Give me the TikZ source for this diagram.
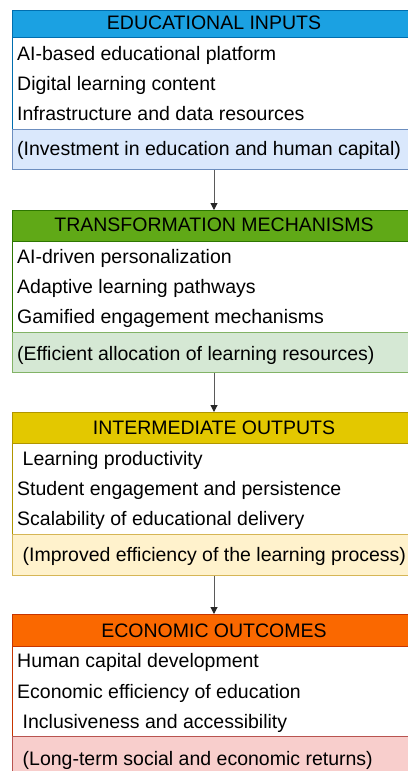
\documentclass[tikz,border=0pt]{standalone}
\usepackage{fontspec}
\setmainfont{Liberation Sans}
\usetikzlibrary{arrows.meta}

\definecolor{blueHead}{HTML}{1BA1E2}\definecolor{blueLine}{HTML}{006EAF}
\definecolor{blueFoot}{HTML}{DAE8FC}\definecolor{blueFootLine}{HTML}{6C8EBF}
\definecolor{greenHead}{HTML}{60A917}\definecolor{greenLine}{HTML}{2D7600}
\definecolor{greenFoot}{HTML}{D5E8D4}\definecolor{greenFootLine}{HTML}{82B366}
\definecolor{yellowHead}{HTML}{E3C800}\definecolor{yellowLine}{HTML}{B09500}
\definecolor{yellowFoot}{HTML}{FFF2CC}\definecolor{yellowFootLine}{HTML}{D6B656}
\definecolor{orangeHead}{HTML}{FA6800}\definecolor{orangeLine}{HTML}{C73500}
\definecolor{redFoot}{HTML}{F8CECC}\definecolor{redFootLine}{HTML}{B85450}
\definecolor{arrowGray}{HTML}{5A5A5A}

\tikzset{
  x=1pt, y=-1pt,
  panel/.style={rectangle, anchor=north west, inner sep=0pt, minimum width=405pt, line width=0.9pt},
  headtext/.style={anchor=base, inner sep=0pt, font=\fontsize{19.5}{22}\selectfont},
  itemtext/.style={anchor=base west, inner sep=0pt, font=\fontsize{19.5}{22}\selectfont},
  flow/.style={draw=arrowGray, line width=1pt, -{Triangle[length=7pt,width=7pt,color=black!85]}}
}

\begin{document}
\begin{tikzpicture}
\useasboundingbox (0,0) rectangle (407,771);
\fill[white] (0,0) rectangle (407,771);

% ---------- Educational inputs ----------
\node[panel, draw=blueLine, fill=white, minimum height=92pt] (b1) at (11.5,37) {};
\node[panel, draw=blueLine, fill=blueHead, minimum height=27pt] (h1) at (11.5,10) {};
\node[panel, draw=blueFootLine, fill=blueFoot, minimum height=40pt] (f1) at (11.5,129) {};
\node[headtext] (h1t) at (214,29.5) {EDUCATIONAL INPUTS};
\node[itemtext] (i11) at (17,60) {AI-based educational platform};
\node[itemtext] (i12) at (17,90.7) {Digital learning content};
\node[itemtext] (i13) at (17,120.7) {Infrastructure and data resources};
\node[itemtext] (f1t) at (17,155.3) {(Investment in education and human capital)};

% ---------- Transformation mechanisms ----------
\node[panel, draw=greenLine, fill=white, minimum height=91pt] (b2) at (11.5,241) {};
\node[panel, draw=greenLine, fill=greenHead, minimum height=31pt] (h2) at (11.5,210) {};
\node[panel, draw=greenFootLine, fill=greenFoot, minimum height=40pt] (f2) at (11.5,332) {};
\node[headtext] (h2t) at (214,231) {TRANSFORMATION MECHANISMS};
\node[itemtext] (i21) at (17,263.3) {AI-driven personalization};
\node[itemtext] (i22) at (17,293.3) {Adaptive learning pathways};
\node[itemtext] (i23) at (17,323.3) {Gamified engagement mechanisms};
\node[itemtext] (f2t) at (17,360.7) {(Efficient allocation of learning resources)};

% ---------- Intermediate outputs ----------
\node[panel, draw=yellowLine, fill=white, minimum height=91pt] (b3) at (11.5,443) {};
\node[panel, draw=yellowLine, fill=yellowHead, minimum height=31pt] (h3) at (11.5,412) {};
\node[panel, draw=yellowFootLine, fill=yellowFoot, minimum height=41pt] (f3) at (11.5,534) {};
\node[headtext] (h3t) at (214,434.3) {INTERMEDIATE OUTPUTS};
\node[itemtext] (i31) at (22.5,465) {Learning productivity};
\node[itemtext] (i32) at (17,495) {Student engagement and persistence};
\node[itemtext] (i33) at (17,525) {Scalability of educational delivery};
\node[itemtext] (f3t) at (22.5,561.7) {(Improved efficiency of the learning process)};

% ---------- Economic outcomes ----------
\node[panel, draw=orangeLine, fill=white, minimum height=90pt] (b4) at (11.5,646) {};
\node[panel, draw=orangeLine, fill=orangeHead, minimum height=32pt] (h4) at (11.5,614) {};
\node[panel, draw=redFootLine, fill=redFoot, minimum height=45pt] (f4) at (11.5,736) {};
\node[headtext] (h4t) at (214,637.3) {ECONOMIC OUTCOMES};
\node[itemtext] (i41) at (17,667.3) {Human capital development};
\node[itemtext] (i42) at (17,698.3) {Economic efficiency of education};
\node[itemtext] (i43) at (22.5,728.3) {Inclusiveness and accessibility};
\node[itemtext] (f4t) at (22.5,765) {(Long-term social and economic returns)};

% ---------- Flow between stages ----------
\draw[flow] (f1.south -| h1t) -- (h2.north -| h1t);
\draw[flow] (f2.south -| h2t) -- (h3.north -| h2t);
\draw[flow] (f3.south -| h3t) -- (h4.north -| h3t);
\end{tikzpicture}
\end{document}
